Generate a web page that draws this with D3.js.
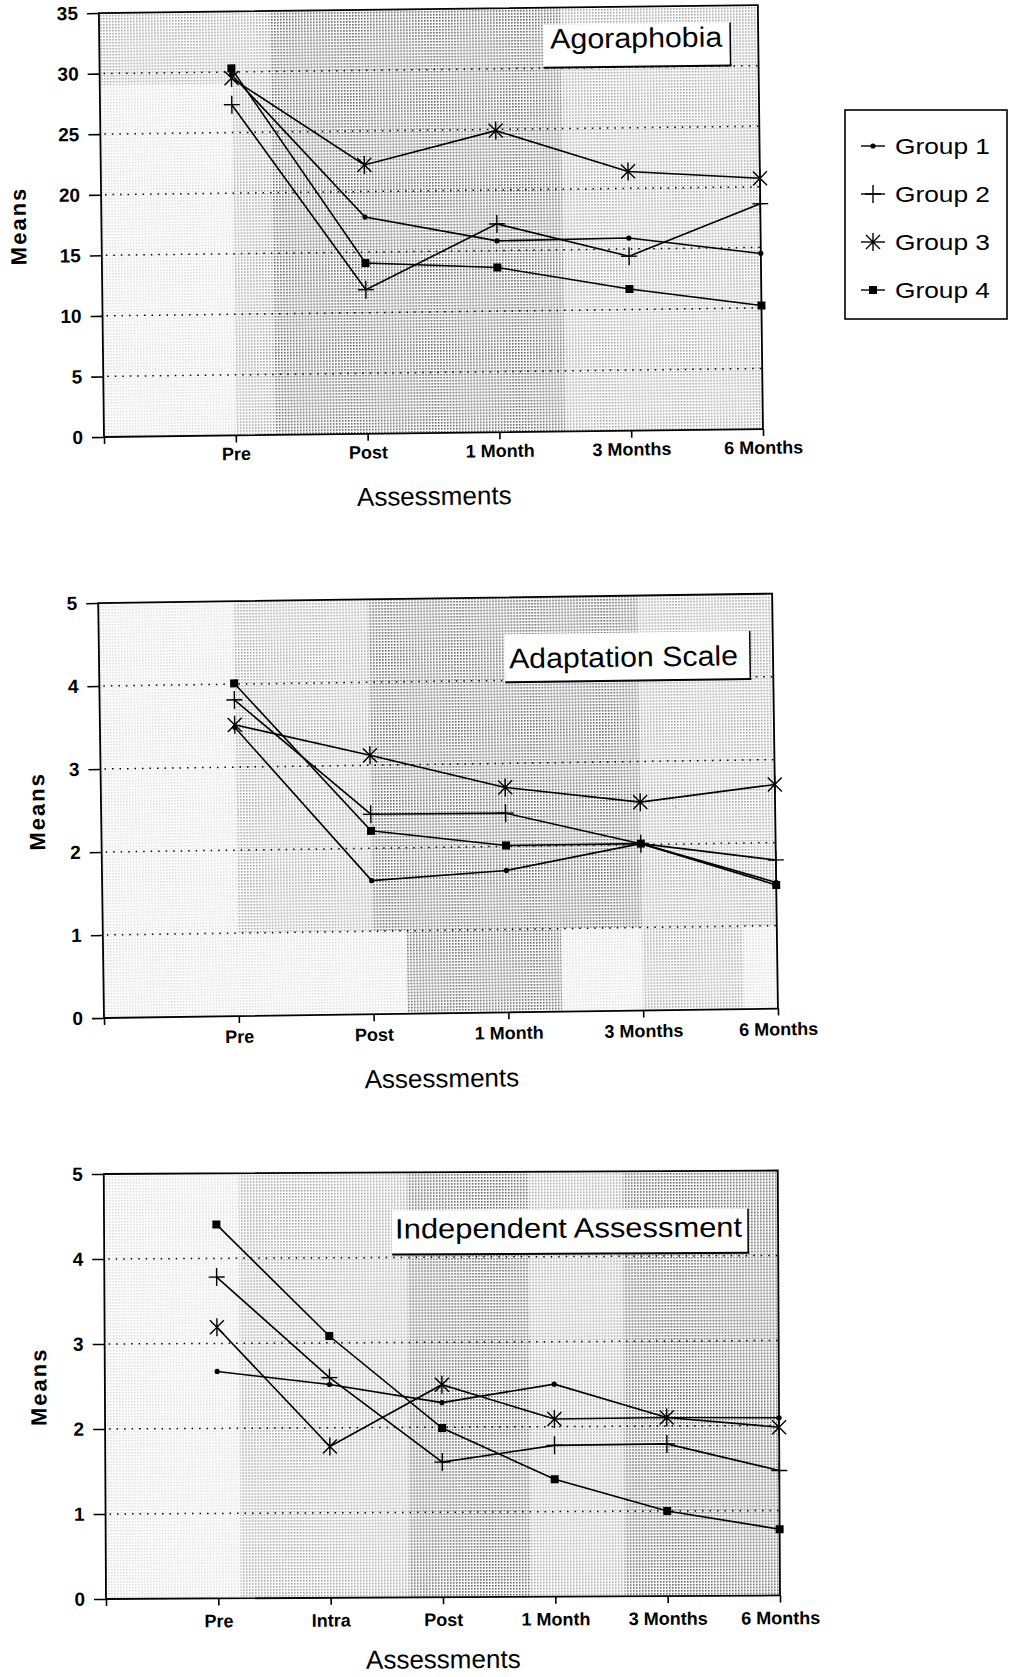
<!DOCTYPE html>
<html>
<head>
<meta charset="utf-8">
<script src="https://cdn.jsdelivr.net/npm/d3@7"></script>
<style>
  body { margin: 0; background: #fff; }
  svg { display: block; font-family: "Liberation Sans", Arial, sans-serif; }
</style>
</head>
<body>
<div id="chart"></div>
<script>
'use strict'

// ---- data ----
const groupNames = ['Group 1', 'Group 2', 'Group 3', 'Group 4'];

const agoraCats = ['Pre', 'Post', '1 Month', '3 Months', '6 Months'];
const agoraYTicks = [0, 5, 10, 15, 20, 25, 30, 35];
const agoraG1 = [29.8, 17.9, 15.8, 15.9, 14.5];
const agoraG2 = [27.3, 11.9, 17.2, 14.4, 18.6];
const agoraG3 = [29.5, 22.2, 24.9, 21.4, 20.7];
const agoraG4 = [30.3, 14.1, 13.6, 11.7, 10.2];

const adaptCats = ['Pre', 'Post', '1 Month', '3 Months', '6 Months'];
const adaptYTicks = [0, 1, 2, 3, 4, 5];
const adaptG1 = [3.48, 1.61, 1.71, 2.01, 1.52];
const adaptG2 = [3.81, 2.41, 2.40, 2.01, 1.79];
const adaptG3 = [3.51, 3.12, 2.71, 2.51, 2.70];
const adaptG4 = [4.01, 2.21, 2.01, 2.01, 1.49];

const indepCats = ['Pre', 'Intra', 'Post', '1 Month', '3 Months', '6 Months'];
const indepYTicks = [0, 1, 2, 3, 4, 5];
const indepG1 = [2.67, 2.51, 2.29, 2.50, 2.10, 2.09];
const indepG2 = [3.78, 2.59, 1.59, 1.78, 1.79, 1.47];
const indepG3 = [3.19, 1.78, 2.50, 2.09, 2.10, 1.98];
const indepG4 = [4.40, 3.08, 1.99, 1.38, 1.00, 0.78];

const markerTypes = ['dot', 'plus', 'star', 'square'];

// ---- layout ----
const W = 1010, H = 1677;

const svg = d3.select('#chart').append('svg')
  .attr('width', W)
  .attr('height', H);

// halftone stipple used for the shaded plot backgrounds
svg.append('defs').append('pattern')
  .attr('id', 'halftone')
  .attr('width', 3)
  .attr('height', 3)
  .attr('patternUnits', 'userSpaceOnUse')
  .append('rect')
  .attr('width', 1.6)
  .attr('height', 1.6)
  .attr('fill', '#000');

const shade = { light: 0.14, mid: 0.36, dark: 0.62 };

const panels = [
  {
    title: 'Agoraphobia', cats: agoraCats, yTicks: agoraYTicks, yMax: 35,
    series: [agoraG1, agoraG2, agoraG3, agoraG4],
    left: 104, right: 763, top: 13, bottom: 437, tilt: -0.69,
    box: { x0: 548, x1: 735, y0: 30, y1: 73, tx: 555, ty: 54, tl: 172 },
    meansX: 21, tickPad: 5, titleDy: 72,
    bands: [
      [0, 0.2, 0, 0.17, 'mid'], [0, 0.2, 0.17, 1, 'light'],
      [0.2, 0.26, 0, 1, 'mid'], [0.26, 0.7, 0, 1, 'dark'], [0.7, 1, 0, 1, 'mid']
    ]
  },
  {
    title: 'Adaptation Scale', cats: adaptCats, yTicks: adaptYTicks, yMax: 5,
    series: [adaptG1, adaptG2, adaptG3, adaptG4],
    left: 104, right: 778, top: 603, bottom: 1018, tilt: -0.8,
    box: { x0: 510, x1: 755, y0: 640, y1: 688, tx: 514, ty: 674, tl: 229 },
    meansX: 40, tickPad: 7, titleDy: 74,
    bands: [
      [0, 0.2, 0, 0.8, 'light'], [0.2, 0.4, 0, 0.8, 'mid'], [0.4, 0.8, 0, 0.8, 'dark'],
      [0.8, 1, 0, 0.8, 'mid'],
      [0, 0.45, 0.8, 1, 'light'], [0.45, 0.68, 0.8, 1, 'dark'], [0.68, 0.8, 0.8, 1, 'light'],
      [0.8, 0.95, 0.8, 1, 'mid'], [0.95, 1, 0.8, 1, 'light']
    ]
  },
  {
    title: 'Independent Assessment', cats: indepCats, yTicks: indepYTicks, yMax: 5,
    series: [indepG1, indepG2, indepG3, indepG4],
    left: 106, right: 780, top: 1174, bottom: 1599, tilt: -0.3,
    box: { x0: 394, x1: 750, y0: 1212, y1: 1256, tx: 397, ty: 1240, tl: 347 },
    meansX: 40, tickPad: 9, titleDy: 71,
    bands: [
      [0, 0.2, 0, 1, 'light'], [0.2, 0.45, 0, 1, 'mid'], [0.45, 0.63, 0, 1, 'dark'],
      [0.63, 0.77, 0, 1, 'mid'], [0.77, 1, 0, 1, 'dark']
    ]
  }
];

function drawMarker(sel, type) {
  if (type === 'dot') {
    sel.append('circle').attr('r', 2.6).attr('fill', '#000');
  } else if (type === 'plus') {
    sel.append('path').attr('d', 'M-8,0H8M0,-9V9')
      .attr('stroke', '#000').attr('stroke-width', 1.4).attr('fill', 'none');
  } else if (type === 'star') {
    sel.append('path').attr('d', 'M-7,-7L7,7M-7,7L7,-7M0,-9V9')
      .attr('stroke', '#000').attr('stroke-width', 1.4).attr('fill', 'none');
  } else {
    sel.append('rect').attr('x', -4).attr('y', -4).attr('width', 8).attr('height', 8)
      .attr('fill', '#000');
  }
}

function drawPanel(p) {
  const g = svg.append('g')
    .attr('transform', `rotate(${p.tilt}, ${p.left}, ${p.bottom})`);

  const pw = p.right - p.left;
  const ph = p.bottom - p.top;

  // first slot of the scale is the bare axis position
  const x = d3.scalePoint().domain(['', ...p.cats]).range([p.left, p.right]);
  const y = d3.scaleLinear().domain([0, p.yMax]).range([p.bottom, p.top]);

  // shaded background
  g.append('rect')
    .attr('x', p.left).attr('y', p.top).attr('width', pw).attr('height', ph)
    .attr('fill', '#fff');
  g.selectAll('rect.band')
    .data(p.bands)
    .join('rect')
    .attr('class', 'band')
    .attr('x', d => p.left + d[0] * pw)
    .attr('y', d => p.top + d[2] * ph)
    .attr('width', d => (d[1] - d[0]) * pw)
    .attr('height', d => (d[3] - d[2]) * ph)
    .attr('fill', 'url(#halftone)')
    .attr('opacity', d => shade[d[4]]);

  // dotted gridlines
  g.selectAll('line.grid')
    .data(p.yTicks.filter(t => t > 0 && t < p.yMax))
    .join('line')
    .attr('class', 'grid')
    .attr('x1', p.left + 4).attr('x2', p.right)
    .attr('y1', d => y(d)).attr('y2', d => y(d))
    .attr('stroke', '#000')
    .attr('stroke-width', 1.5)
    .attr('stroke-dasharray', '1.5,6');

  // title box
  const b = p.box;
  g.append('rect')
    .attr('x', b.x0).attr('y', b.y0).attr('width', b.x1 - b.x0).attr('height', b.y1 - b.y0)
    .attr('fill', '#fff');
  g.append('line')
    .attr('x1', b.x0).attr('x2', b.x1 + 1).attr('y1', b.y1).attr('y2', b.y1)
    .attr('stroke', '#000').attr('stroke-width', 2);
  g.append('line')
    .attr('x1', b.x1).attr('x2', b.x1).attr('y1', b.y0).attr('y2', b.y1)
    .attr('stroke', '#000').attr('stroke-width', 1.5);
  g.append('text')
    .attr('x', b.tx).attr('y', b.ty)
    .attr('font-size', 28)
    .attr('textLength', b.tl)
    .attr('lengthAdjust', 'spacingAndGlyphs')
    .attr('fill', '#000')
    .text(p.title);

  // series lines and markers
  p.series.forEach((vals, si) => {
    const pts = vals.map((v, i) => [x(p.cats[i]), y(v)]);
    g.append('path')
      .attr('d', d3.line()(pts))
      .attr('fill', 'none')
      .attr('stroke', '#000')
      .attr('stroke-width', 1.6);
    g.selectAll(null)
      .data(pts)
      .join('g')
      .attr('transform', d => `translate(${d[0]},${d[1]})`)
      .each(function () { drawMarker(d3.select(this), markerTypes[si]); });
  });

  // frame
  g.append('rect')
    .attr('x', p.left).attr('y', p.top).attr('width', pw).attr('height', ph)
    .attr('fill', 'none')
    .attr('stroke', '#000')
    .attr('stroke-width', 1.8);

  // axes
  const yAxis = g.append('g')
    .attr('transform', `translate(${p.left},0)`)
    .call(d3.axisLeft(y).tickValues(p.yTicks).tickFormat(d3.format('d'))
      .tickSize(12).tickPadding(9).tickSizeOuter(0));
  yAxis.select('.domain').remove();
  yAxis.selectAll('line').attr('stroke-width', 1.6);
  yAxis.selectAll('text')
    .attr('font-family', '"Liberation Sans", Arial, sans-serif')
    .attr('font-size', 19)
    .attr('font-weight', 'bold')
    .attr('fill', '#000');

  const xAxis = g.append('g')
    .attr('transform', `translate(0,${p.bottom})`)
    .call(d3.axisBottom(x).tickSize(7).tickPadding(p.tickPad).tickSizeOuter(0));
  xAxis.select('.domain').remove();
  xAxis.selectAll('line').attr('stroke-width', 1.6);
  xAxis.selectAll('text')
    .attr('font-family', '"Liberation Sans", Arial, sans-serif')
    .attr('font-size', 18)
    .attr('font-weight', 'bold')
    .attr('fill', '#000');

  // axis titles
  g.append('text')
    .attr('transform', `translate(${p.meansX},${(p.top + p.bottom) / 2}) rotate(-90)`)
    .attr('text-anchor', 'middle')
    .attr('dominant-baseline', 'central')
    .attr('font-size', 22)
    .attr('font-weight', 'bold')
    .attr('letter-spacing', 2)
    .text('Means');

  g.append('text')
    .attr('x', (p.left + p.right) / 2)
    .attr('y', p.bottom + p.titleDy)
    .attr('text-anchor', 'middle')
    .attr('font-size', 26)
    .text('Assessments');
}

panels.forEach(drawPanel);

// ---- legend ----
const legend = svg.append('g');
legend.append('rect')
  .attr('x', 845).attr('y', 110).attr('width', 162).attr('height', 209)
  .attr('fill', '#fff')
  .attr('stroke', '#000')
  .attr('stroke-width', 1.6);

const legendY = d3.scalePoint().domain(groupNames).range([146, 290]);

const items = legend.selectAll('g.item')
  .data(groupNames)
  .join('g')
  .attr('class', 'item')
  .attr('transform', d => `translate(873,${legendY(d)})`);

items.append('line')
  .attr('x1', -12).attr('x2', 12)
  .attr('stroke', '#000')
  .attr('stroke-width', 1.4);

items.each(function (d, i) {
  const m = d3.select(this).append('g');
  drawMarker(m, markerTypes[i]);
});

items.append('text')
  .attr('x', 22)
  .attr('y', 8)
  .attr('font-size', 22)
  .attr('textLength', 95)
  .attr('lengthAdjust', 'spacingAndGlyphs')
  .text(d => d);
</script>
</body>
</html>
